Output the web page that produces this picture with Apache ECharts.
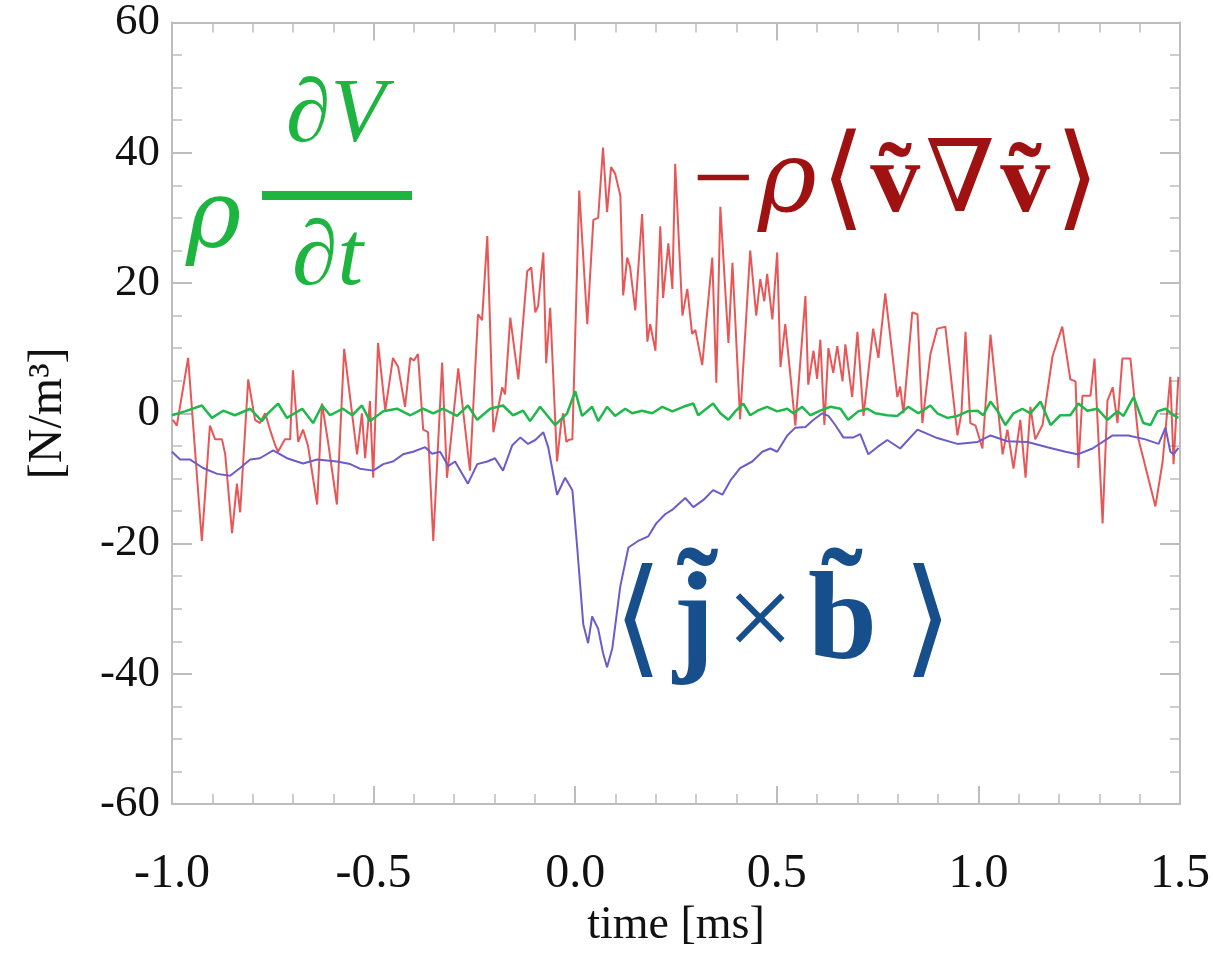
<!DOCTYPE html>
<html>
<head>
<meta charset="utf-8">
<script src="https://cdn.jsdelivr.net/npm/echarts@6/dist/echarts.min.js"></script>
<style>html,body{margin:0;padding:0;background:#fff}#c{width:1213px;height:954px}</style>
</head>
<body>
<div id="c"></div>
<script>
// ---- data (time in ms, force density in N/m^3) ----
const redTime = [-0.998,-0.988,-0.960,-0.926,-0.906,-0.893,-0.876,-0.868,-0.851,-0.839,-0.831,-0.811,-0.794,-0.782,-0.769,-0.757,-0.744,-0.737,-0.720,-0.707,-0.700,-0.687,-0.675,-0.663,-0.640,-0.628,-0.613,-0.591,-0.573,-0.541,-0.529,-0.521,-0.509,-0.501,-0.489,-0.471,-0.452,-0.439,-0.422,-0.409,-0.400,-0.390,-0.377,-0.365,-0.352,-0.330,-0.318,-0.290,-0.261,-0.241,-0.231,-0.218,-0.203,-0.181,-0.174,-0.161,-0.141,-0.119,-0.109,-0.099,-0.092,-0.079,-0.072,-0.062,-0.045,-0.035,-0.030,-0.022,-0.017,-0.007,0.010,0.030,0.045,0.057,0.069,0.079,0.089,0.099,0.112,0.119,0.129,0.136,0.149,0.166,0.179,0.186,0.199,0.211,0.218,0.231,0.241,0.248,0.266,0.278,0.290,0.298,0.315,0.340,0.350,0.360,0.380,0.390,0.409,0.434,0.449,0.459,0.469,0.476,0.489,0.501,0.509,0.521,0.546,0.571,0.578,0.591,0.600,0.608,0.618,0.628,0.640,0.650,0.663,0.670,0.687,0.700,0.715,0.739,0.752,0.769,0.799,0.806,0.814,0.836,0.849,0.861,0.881,0.898,0.918,0.948,0.958,0.968,0.980,0.993,1.010,1.030,1.060,1.072,1.087,1.104,1.117,1.129,1.141,1.159,1.184,1.208,1.228,1.241,1.248,1.258,1.278,1.288,1.308,1.320,1.333,1.345,1.357,1.377,1.397,1.409,1.439,1.457,1.476,1.484,1.496];
const redForce = [-1.0,-1.9,8.5,-19.6,-1.9,-4.0,-4.0,-6.3,-18.4,-10.8,-15.2,5.2,-1.0,-1.5,0.0,-2.5,-4.9,-5.9,-4.0,-4.0,6.6,-4.4,-2.5,-4.9,-14.0,1.5,-4.4,-14.0,9.9,-6.3,0.0,-6.9,1.9,-9.9,10.8,0.4,8.5,7.1,1.0,8.5,8.1,9.1,-2.5,-2.9,-19.6,7.8,-9.9,6.9,-8.8,15.2,14.3,27.2,-2.9,4.0,2.9,14.7,5.2,21.8,22.4,15.5,16.5,24.7,7.7,16.2,-7.4,-1.5,0.0,-4.4,-4.1,-4.0,34.2,13.7,29.7,30.0,40.8,30.9,37.8,36.8,33.4,18.1,23.9,22.5,15.8,30.6,11.0,13.7,9.6,28.7,17.7,26.1,19.1,38.3,15.0,19.1,12.2,12.8,7.4,23.9,4.7,31.7,10.8,23.1,-0.9,25.0,15.0,20.6,17.2,21.4,14.4,24.7,7.1,13.7,-1.9,18.0,4.4,9.6,5.3,11.3,-1.8,10.0,6.2,10.3,4.9,10.6,2.5,12.5,-0.4,13.0,8.5,18.4,2.5,4.1,0.0,15.5,15.2,-1.5,9.1,13.0,13.3,-3.4,0.0,12.5,-1.5,-1.9,-5.4,12.1,-6.3,-2.5,-8.5,-1.0,-9.9,1.0,-4.0,-1.8,8.8,13.3,5.2,4.9,-8.4,2.7,2.7,8.4,-16.9,1.9,4.0,-1.5,8.4,8.4,-4.0,-6.9,-14.3,-7.4,5.6,-7.8,5.6];

const blueTime = [-1.000,-0.980,-0.955,-0.923,-0.888,-0.856,-0.831,-0.806,-0.782,-0.749,-0.715,-0.675,-0.640,-0.591,-0.558,-0.534,-0.501,-0.476,-0.452,-0.427,-0.402,-0.372,-0.355,-0.335,-0.315,-0.298,-0.266,-0.243,-0.218,-0.199,-0.179,-0.156,-0.136,-0.117,-0.099,-0.079,-0.067,-0.045,-0.025,-0.007,0.005,0.020,0.032,0.042,0.057,0.069,0.079,0.092,0.112,0.132,0.156,0.181,0.201,0.223,0.243,0.273,0.293,0.318,0.342,0.365,0.385,0.409,0.439,0.464,0.484,0.501,0.526,0.546,0.571,0.591,0.613,0.628,0.645,0.665,0.690,0.707,0.727,0.749,0.774,0.806,0.849,0.898,0.948,0.998,1.030,1.072,1.122,1.171,1.216,1.246,1.283,1.333,1.372,1.414,1.447,1.464,1.476,1.484,1.496];
const blueForce = [-5.9,-7.1,-7.1,-8.4,-9.3,-9.6,-8.4,-7.1,-6.9,-5.7,-6.9,-7.7,-7.1,-7.4,-7.8,-8.5,-8.8,-7.8,-7.4,-6.3,-5.9,-5.2,-6.2,-5.9,-8.1,-7.4,-10.8,-7.8,-7.4,-6.9,-8.8,-4.9,-3.7,-4.7,-4.1,-2.9,-5.2,-12.5,-9.9,-11.8,-20.6,-32.4,-35.3,-31.2,-33.1,-36.8,-39.0,-36.1,-26.5,-20.6,-19.6,-18.9,-16.9,-15.5,-14.7,-13.0,-14.4,-13.3,-11.8,-12.5,-10.3,-8.4,-7.4,-5.9,-5.4,-5.9,-3.4,-2.2,-2.1,-1.0,0.0,-0.4,-1.8,-3.7,-3.7,-3.2,-6.3,-5.2,-4.1,-5.4,-2.5,-3.8,-4.7,-4.4,-3.4,-4.3,-4.4,-5.2,-5.9,-6.3,-5.4,-3.4,-3.4,-4.0,-4.7,-2.2,-5.9,-6.3,-5.3];

const greenTime = [-1.000,-0.968,-0.926,-0.901,-0.873,-0.844,-0.806,-0.777,-0.762,-0.737,-0.715,-0.677,-0.650,-0.628,-0.608,-0.576,-0.553,-0.529,-0.509,-0.476,-0.442,-0.409,-0.377,-0.352,-0.328,-0.293,-0.266,-0.243,-0.211,-0.179,-0.154,-0.129,-0.112,-0.087,-0.050,-0.020,0.000,0.017,0.042,0.057,0.079,0.099,0.124,0.141,0.166,0.191,0.216,0.241,0.268,0.293,0.305,0.323,0.342,0.360,0.380,0.397,0.417,0.434,0.452,0.476,0.501,0.526,0.541,0.563,0.583,0.608,0.633,0.658,0.677,0.702,0.725,0.744,0.774,0.799,0.826,0.851,0.881,0.898,0.923,0.948,0.973,0.998,1.012,1.030,1.047,1.067,1.087,1.109,1.129,1.154,1.179,1.203,1.228,1.248,1.270,1.295,1.320,1.345,1.360,1.385,1.409,1.427,1.444,1.464,1.484,1.496];
const greenForce = [-0.3,0.3,1.2,-0.7,0.4,-0.3,0.7,-1.2,0.0,1.5,-0.7,0.7,-1.5,1.2,-0.3,0.7,-0.3,1.2,-1.2,0.3,0.7,-0.3,0.7,0.0,0.7,-0.4,1.2,-1.0,0.7,1.2,-0.3,0.4,-1.2,1.0,-1.8,0.0,3.4,-0.4,1.0,-1.2,1.0,-0.4,0.7,0.0,0.4,0.0,1.0,0.3,1.0,1.5,-0.3,0.6,1.5,0.0,-1.0,0.3,1.5,-0.3,0.4,1.0,0.3,0.7,0.0,1.0,-0.3,0.4,1.0,0.7,-1.0,0.3,0.7,0.0,-0.3,-0.4,1.0,0.0,1.2,0.0,-0.7,-0.4,0.3,0.4,-0.3,1.8,0.4,-1.8,0.0,0.7,0.0,1.8,-1.8,-0.3,-0.3,1.5,0.4,0.7,-1.0,0.3,-0.4,2.5,-1.5,-1.8,0.3,0.7,-0.3,-0.7];

const xTicks = [-1.0, -0.5, 0.0, 0.5, 1.0, 1.5];
const yTicks = [-60, -40, -20, 0, 20, 40, 60];

const zip = (a, b) => a.map((t, i) => [t, b[i]]);

const SERIF = "'Liberation Serif','DejaVu Serif',serif";
const GREEK = "'DejaVu Serif','Liberation Serif',serif";
const AX = '#bdbdbd';
const GREEN = '#1db43f', DRED = '#a01212', DBLUE = '#174f8c';
const chart = echarts.init(document.getElementById('c'), null, {renderer: 'canvas'});

const baseX = {
  type: 'value', min: xTicks[0], max: xTicks[xTicks.length - 1], interval: 0.5,
  axisLine: {show: true, onZero: false, lineStyle: {color: AX, width: 2}},
  axisTick: {show: true, inside: true, length: 18, lineStyle: {color: AX, width: 2}},
  minorTick: {show: true, splitNumber: 5, length: 10, lineStyle: {color: AX, width: 1.5}},
  splitLine: {show: false}
};
const baseY = {
  type: 'value', min: yTicks[0], max: yTicks[yTicks.length - 1], interval: 20,
  axisLine: {show: true, onZero: false, lineStyle: {color: AX, width: 2}},
  axisTick: {show: true, inside: true, length: 20, lineStyle: {color: AX, width: 2}},
  minorTick: {show: true, splitNumber: 4, length: 10, lineStyle: {color: AX, width: 1.5}},
  splitLine: {show: false}
};

chart.setOption({
  animation: false,
  backgroundColor: '#fff',
  grid: {left: 172, right: 33, top: 12, bottom: 125, containLabel: false},
  xAxis: [
    Object.assign({}, baseX, {
      position: 'bottom',
      axisLabel: {show: true, margin: 46, fontFamily: SERIF, fontSize: 48, color: '#111',
        formatter: v => v.toFixed(1)},
      name: 'time [ms]', nameLocation: 'middle', nameGap: 76,
      nameTextStyle: {fontFamily: SERIF, fontSize: 46, color: '#111'}
    }),
    Object.assign({}, baseX, {position: 'top', axisLabel: {show: false}})
  ],
  yAxis: [
    Object.assign({}, baseY, {
      position: 'left',
      axisLabel: {show: true, margin: 12, fontFamily: SERIF, fontSize: 45, color: '#111'},
      name: '[N/m³]', nameLocation: 'middle', nameGap: 100, nameRotate: 90,
      nameTextStyle: {fontFamily: SERIF, fontSize: 48, color: '#111'}
    }),
    Object.assign({}, baseY, {position: 'right', axisLabel: {show: false}})
  ],
  series: [
    {type: 'line', name: 'reynolds', data: zip(redTime, redForce), showSymbol: false, symbol: 'none',
      lineStyle: {color: 'rgba(226,45,45,0.8)', width: 2}, z: 2},
    {type: 'line', name: 'maxwell', data: zip(blueTime, blueForce), showSymbol: false, symbol: 'none',
      lineStyle: {color: '#6b5cc9', width: 2}, z: 3},
    {type: 'line', name: 'inertia', data: zip(greenTime, greenForce), showSymbol: false, symbol: 'none',
      lineStyle: {color: '#1fb84a', width: 2.5}, z: 4}
  ],
  graphic: [
    // green label: rho dV/dt
    {type: 'text', left: 186, top: 176, z: 10,
      style: {text: 'ρ', font: "italic 94px " + GREEK, fill: GREEN}},
    {type: 'text', left: 286, top: 72, z: 10,
      style: {text: '∂V', font: "italic 90px " + SERIF, fill: GREEN}},
    {type: 'rect', z: 10, shape: {x: 262, y: 191, width: 150, height: 9},
      style: {fill: GREEN}},
    {type: 'text', left: 292, top: 214, z: 10,
      style: {text: '∂t', font: "italic 92px " + SERIF, fill: GREEN}},
    // red label
    {type: 'text', left: 692, top: 128, z: 10,
      style: {
        text: '{m|−}{r|ρ}{k|⟨}{b|ṽ}{n|∇}{b|ṽ}{k|⟩}',
        rich: {
          m: {font: "110px " + SERIF, fill: DRED, padding: [0, 4, 0, 0]},
          r: {font: "italic 100px " + GREEK, fill: DRED, padding: [0, 2, 0, 0]},
          k: {font: "114px " + SERIF, fill: DRED, padding: [0, 2, 0, 2]},
          n: {font: "100px " + SERIF, fill: DRED, padding: [0, 2, 0, 2]},
          b: {font: "bold 100px " + SERIF, fill: DRED, padding: [0, 3, 0, 3]}
        }
      }},
    // blue label
    {type: 'text', left: 613, top: 562, z: 10,
      style: {
        text: '{k|⟨}{b|j̃}{n|×}{c|b̃}{k|⟩}',
        rich: {
          k: {font: "128px " + SERIF, fill: DBLUE, padding: [0, 4, 0, 4]},
          n: {font: "120px " + SERIF, fill: DBLUE, padding: [0, 6, 0, 6]},
          b: {font: "bold 124px " + SERIF, fill: DBLUE, padding: [0, 6, 0, 6]},
          c: {font: "bold 124px " + SERIF, fill: DBLUE, padding: [0, 22, 0, 8]}
        }
      }}
  ]
});
</script>
</body>
</html>
